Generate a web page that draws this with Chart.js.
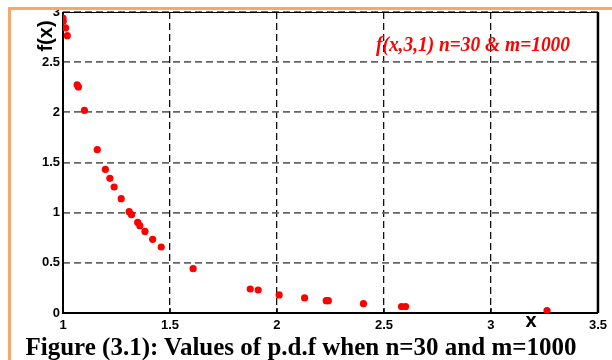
<!DOCTYPE html>
<html>
<head>
<meta charset="utf-8">
<script src="https://cdn.jsdelivr.net/npm/chart.js@4.4.1/dist/chart.umd.min.js"></script>
<style>
  body { margin: 0; background: #fff; }
  #wrap { position: relative; width: 612px; height: 360px; overflow: hidden; background: #fff; }
  #chart { position: absolute; left: 0; top: 0; }
  .frame-top { position: absolute; left: 8px; top: 7px; width: 604px; height: 3px; background: #f2a86f; }
  .frame-left { position: absolute; left: 8px; top: 7px; width: 3px; height: 353px; background: #f2a86f; }
  #caption { position: absolute; left: 0; width: 602px; top: 333px; text-align: center; white-space: nowrap;
             font: bold 25px "Liberation Serif", "Times New Roman", serif; color: #000; }
</style>
</head>
<body>
<div id="wrap">
  <canvas id="chart" width="612" height="338"></canvas>
  <div class="frame-top"></div>
  <div class="frame-left"></div>
  <div id="caption">Figure (3.1): Values of p.d.f when n=30 and m=1000</div>
</div>
<script>
// values
const xValues = [1.000, 1.001, 1.012, 1.020, 1.066, 1.072, 1.100, 1.160, 1.198, 1.219,
                 1.239, 1.272, 1.309, 1.320, 1.349, 1.359, 1.383, 1.419, 1.459, 1.608,
                 1.875, 1.912, 2.010, 2.129, 2.230, 2.240, 2.404, 2.582, 2.601, 3.262];
const fValues = [2.938, 2.908, 2.841, 2.764, 2.275, 2.253, 2.019, 1.628, 1.431, 1.342,
                 1.256, 1.139, 1.010, 0.980, 0.903, 0.870, 0.813, 0.734, 0.658, 0.442,
                 0.239, 0.229, 0.180, 0.150, 0.123, 0.123, 0.093, 0.065, 0.065, 0.025];
const xTicks = [1, 1.5, 2, 2.5, 3, 3.5];
const yTicks = [0, 0.5, 1, 1.5, 2, 2.5, 3];
const seriesLabel = 'f(x,3,1) n=30 & m=1000';

const points = xValues.map((x, i) => ({ x: x, y: fValues[i] }));

// box, inward ticks, titles and the red note
const extras = {
  id: 'extras',
  beforeDatasetsDraw(chart) {
    const { ctx, chartArea: a, scales: { x } } = chart;
    ctx.save();
    ctx.strokeStyle = '#000';
    ctx.lineWidth = 1;
    ctx.beginPath();
    ctx.moveTo(a.left, a.top + 0.5);
    ctx.lineTo(a.right, a.top + 0.5);
    ctx.stroke();
    ctx.lineWidth = 2.5;
    ctx.beginPath();
    ctx.moveTo(a.right, a.top);
    ctx.lineTo(a.right, a.bottom);
    ctx.stroke();
    ctx.lineWidth = 2;
    ctx.beginPath();
    ctx.moveTo(a.left, a.top);
    ctx.lineTo(a.left, a.bottom);
    ctx.lineTo(a.right, a.bottom);
    ctx.stroke();
    ctx.lineWidth = 1.5;
    xTicks.forEach(v => {
      const px = x.getPixelForValue(v);
      ctx.beginPath();
      ctx.moveTo(px, a.bottom);
      ctx.lineTo(px, a.bottom - 5);
      ctx.stroke();
    });
    ctx.restore();
  },
  afterDraw(chart) {
    const { ctx } = chart;
    ctx.save();
    ctx.fillStyle = '#000';
    ctx.font = 'bold 20px "Liberation Sans", Arial, sans-serif';
    ctx.textAlign = 'center';
    ctx.textBaseline = 'alphabetic';
    ctx.fillText('x', 531, 327);
    ctx.translate(52, 36);
    ctx.rotate(-Math.PI / 2);
    ctx.fillText('f(x)', 0, 0);
    ctx.restore();

    ctx.save();
    ctx.fillStyle = '#ff0000';
    ctx.font = 'italic bold 22px "Liberation Serif", "Times New Roman", serif';
    ctx.textAlign = 'left';
    ctx.textBaseline = 'alphabetic';
    const w = ctx.measureText(seriesLabel).width;
    ctx.translate(376, 51);
    ctx.scale(194 / w, 1);
    ctx.fillText(seriesLabel, 0, 0);
    ctx.restore();
  }
};

const tickFont = { family: '"Liberation Sans", Arial, sans-serif', size: 13, weight: 'bold' };

new Chart(document.getElementById('chart'), {
  type: 'scatter',
  data: {
    datasets: [{
      label: seriesLabel,
      data: points,
      backgroundColor: '#ff0000',
      borderColor: '#ff0000',
      pointRadius: 3.6,
      pointBorderWidth: 0,
      pointHoverRadius: 3.6
    }]
  },
  options: {
    responsive: false,
    animation: false,
    events: [],
    layout: { padding: { left: 0, top: 12, right: 11, bottom: 0 } },
    plugins: { legend: { display: false }, tooltip: { enabled: false } },
    scales: {
      x: {
        type: 'linear',
        min: 1,
        max: 3.5,
        afterBuildTicks: s => { s.ticks = xTicks.map(v => ({ value: v })); },
        afterFit: s => { s.height = 25; },
        grid: { color: '#111', lineWidth: 1.3, drawTicks: false },
        border: { display: false, dash: [7, 4] },
        ticks: { padding: 5, maxRotation: 0, color: '#000', font: tickFont, callback: v => String(v) }
      },
      y: {
        min: 0,
        max: 3,
        afterBuildTicks: s => { s.ticks = yTicks.map(v => ({ value: v })); },
        afterFit: s => { s.width = 63; },
        grid: { color: '#666', lineWidth: 1.8, drawTicks: false },
        border: { display: false, dash: [7, 4] },
        ticks: { padding: 3, color: '#000', font: tickFont, callback: v => String(v) }
      }
    }
  },
  plugins: [extras]
});
</script>
</body>
</html>
